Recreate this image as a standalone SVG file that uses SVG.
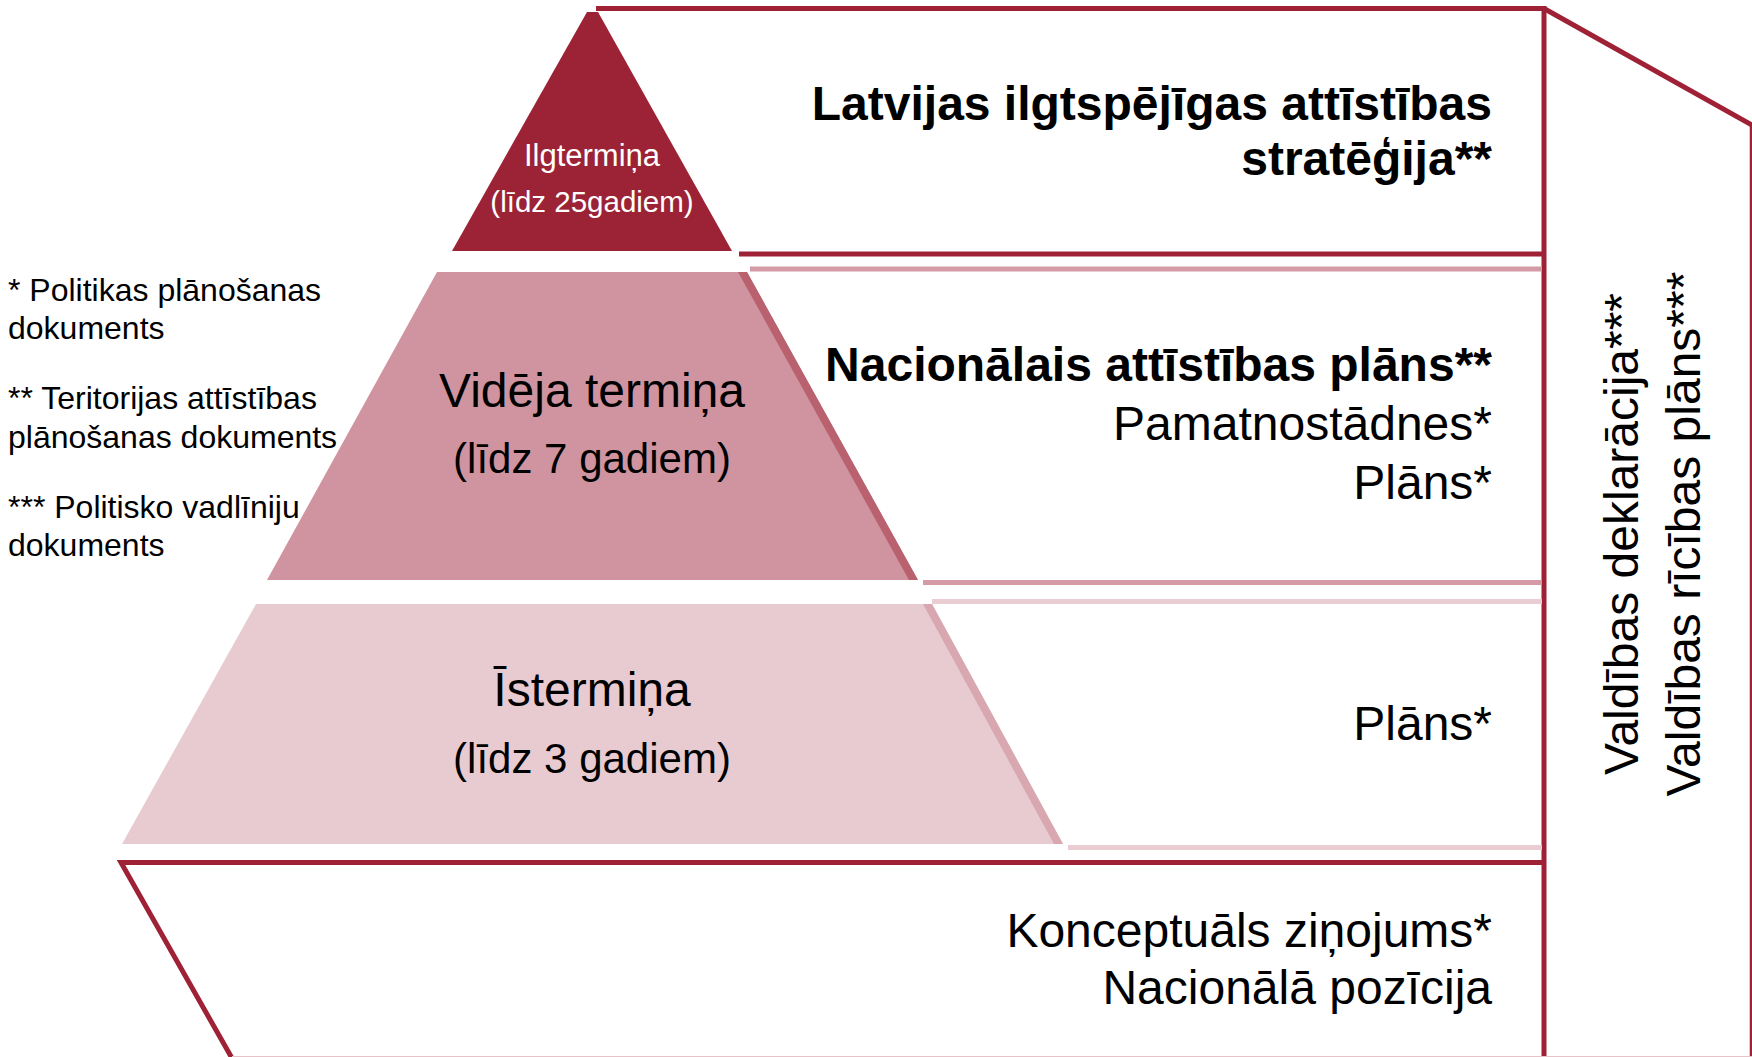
<svg xmlns="http://www.w3.org/2000/svg" width="1752" height="1057" viewBox="0 0 1752 1057">
<style>
  text { font-family: "Liberation Sans", Arial, sans-serif; fill: #000; }
  .r { font-size: 48px; text-anchor: end; }
  .b { font-weight: bold; }
  .c { text-anchor: middle; }
  .note { font-size: 32px; }
  .crim { stroke: #9E2136; stroke-width: 5; fill: none; }
  .pk { stroke: #D49BA6; stroke-width: 5; }
  .lpk { stroke: #E9CDD3; stroke-width: 5; }
  .w { fill: #fff; }
</style>
<rect width="1752" height="1057" fill="#ffffff"/>

<g id="connectors">
  <line class="crim" x1="596" y1="8.5" x2="1546" y2="8.5"/>
  <line class="crim" x1="1544" y1="8.5" x2="1752" y2="125"/>
  <line class="crim" x1="1544" y1="6" x2="1544" y2="1057"/>
  <line x1="1751" y1="124" x2="1751" y2="1057" stroke="#9E2136" stroke-width="2.5"/>
  <line class="crim" x1="739" y1="254" x2="1544" y2="254"/>
  <line class="pk" x1="750" y1="269" x2="1542" y2="269"/>
  <line class="pk" x1="923" y1="582.5" x2="1542" y2="582.5"/>
  <line class="lpk" x1="932" y1="601.5" x2="1542" y2="601.5"/>
  <line class="lpk" x1="1068" y1="847.5" x2="1542" y2="847.5"/>
  <polyline class="crim" points="1544,862.5 121,862.5 233,1060"/>
  <line x1="232" y1="1056.5" x2="1752" y2="1056.5" stroke="#E6C3C9" stroke-width="1"/>
</g>

<g id="tier-long">
  <polygon points="587,12 598,12 732,251 452,251" fill="#9B2335"/>
  <text class="c w" x="592" y="166" font-size="31">Ilgtermiņa</text>
  <text class="c w" x="592" y="212" font-size="29.5">(līdz 25gadiem)</text>
</g>

<g id="tier-mid">
  <polygon points="437,272 747,272 918,580 267,580" fill="#CF949F"/>
  <polygon points="738,272 747,272 918,580 909,580" fill="#B9616F"/>
  <text class="c" x="592" y="407" font-size="48">Vidēja termiņa</text>
  <text class="c" x="592" y="473" font-size="42">(līdz 7 gadiem)</text>
</g>

<g id="tier-short">
  <polygon points="256,604 932,604 1063,844 122,844" fill="#E8CBD1"/>
  <polygon points="923,604 932,604 1063,844 1054,844" fill="#D9A7B0"/>
  <text class="c" x="592" y="706" font-size="48">Īstermiņa</text>
  <text class="c" x="592" y="773" font-size="42">(līdz 3 gadiem)</text>
</g>

<g id="band-long">
  <text class="r b" x="1492" y="120">Latvijas ilgtspējīgas attīstības</text>
  <text class="r b" x="1492" y="175">stratēģija**</text>
</g>

<g id="band-mid">
  <text class="r b" x="1492" y="381">Nacionālais attīstības plāns**</text>
  <text class="r" x="1492" y="440">Pamatnostādnes*</text>
  <text class="r" x="1492" y="499">Plāns*</text>
</g>

<g id="band-short">
  <text class="r" x="1492" y="740">Plāns*</text>
</g>

<g id="band-other">
  <text class="r" x="1492" y="947">Konceptuāls ziņojums*</text>
  <text class="r" x="1492" y="1004">Nacionālā pozīcija</text>
</g>

<g id="side-column">
  <text class="c" font-size="48" transform="translate(1638,534) rotate(-90)">Valdības deklarācija***</text>
  <text class="c" font-size="48" transform="translate(1700,534) rotate(-90)">Valdības rīcības plāns***</text>
</g>

<g id="notes">
  <text class="note" x="8" y="301">* Politikas plānošanas</text>
  <text class="note" x="8" y="339">dokuments</text>
  <text class="note" x="8" y="409">** Teritorijas attīstības</text>
  <text class="note" x="8" y="448">plānošanas dokuments</text>
  <text class="note" x="8" y="518">*** Politisko vadlīniju</text>
  <text class="note" x="8" y="556">dokuments</text>
</g>
</svg>
